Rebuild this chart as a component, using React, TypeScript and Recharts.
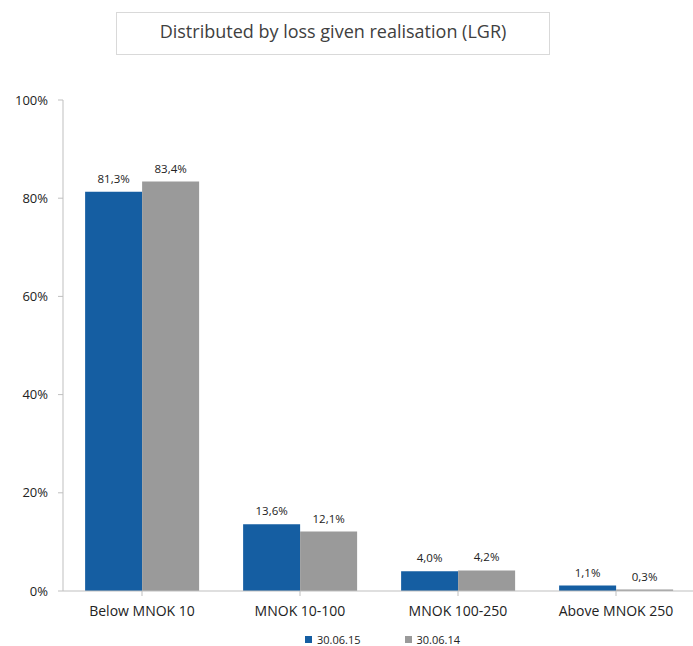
import React from "react";
import { BarChart, Bar, XAxis, YAxis, LabelList, Legend } from "recharts";

// Loss given realisation buckets
const categories = ["Below MNOK 10", "MNOK 10-100", "MNOK 100-250", "Above MNOK 250"];
const series2015 = [81.3, 13.6, 4.0, 1.1];
const series2014 = [83.4, 12.1, 4.2, 0.3];
const seriesNames = ["30.06.15", "30.06.14"];
const yTicks = [0, 20, 40, 60, 80, 100];

const BLUE = "#155ea2";
const GREY = "#9a9a9a";
const AXIS = "#bfbfbf";
const FONT = "'Open Sans', 'Liberation Sans', sans-serif";

const data = categories.map((name, i) => ({
  name,
  a: series2015[i],
  b: series2014[i],
}));

const fmt = (v: number) => v.toFixed(1).replace(".", ",") + "%";

const LegendContent = () => (
  <div
    style={{
      display: "flex",
      justifyContent: "center",
      fontFamily: FONT,
      fontSize: 11,
      color: "#222",
      gap: 44,
      paddingLeft: 70,
      paddingTop: 6,
    }}
  >
    {[BLUE, GREY].map((c, i) => (
      <div key={i} style={{ display: "flex", alignItems: "center" }}>
        <span style={{ width: 7, height: 7, background: c, display: "inline-block", marginRight: 5 }} />
        <span>{seriesNames[i]}</span>
      </div>
    ))}
  </div>
);

export default function App() {
  return (
    <div style={{ position: "absolute", left: 0, top: 0, width: 693, height: 646, background: "#fff" }}>
      <div
        style={{
          position: "absolute",
          left: 116,
          top: 12,
          width: 434,
          height: 43,
          border: "1px solid #d9d9d9",
          display: "flex",
          alignItems: "center",
          justifyContent: "center",
          fontFamily: FONT,
          fontSize: 18,
          color: "#404040",
          paddingBottom: 5,
          boxSizing: "border-box",
        }}
      >
        Distributed by loss given realisation (LGR)
      </div>
      <BarChart
        width={693}
        height={646}
        data={data}
        margin={{ top: 100, right: -2, left: 0, bottom: 0 }}
        barCategoryGap="14%"
        barGap={0}
      >
        <XAxis
          dataKey="name"
          height={35}
          axisLine={{ stroke: AXIS }}
          tickLine={{ stroke: AXIS }}
          tickSize={5}
          tickMargin={10}
          tick={{ fontFamily: FONT, fontSize: 14, fill: "#222" }}
          interval={0}
        />
        <YAxis
          width={63}
          domain={[0, 100]}
          ticks={yTicks}
          tickFormatter={(v: number) => v + "%"}
          axisLine={{ stroke: AXIS }}
          tickLine={{ stroke: AXIS }}
          tickSize={5}
          tickMargin={10}
          tick={{ fontFamily: FONT, fontSize: 13, fill: "#222" }}
        />
        <Legend verticalAlign="bottom" height={20} content={<LegendContent />} />
        <Bar dataKey="a" name={seriesNames[0]} fill={BLUE} isAnimationActive={false}>
          <LabelList dataKey="a" position="top" offset={9} formatter={fmt} style={{ fontFamily: FONT, fontSize: 11.5, fill: "#222" }} />
        </Bar>
        <Bar dataKey="b" name={seriesNames[1]} fill={GREY} isAnimationActive={false}>
          <LabelList dataKey="b" position="top" offset={9} formatter={fmt} style={{ fontFamily: FONT, fontSize: 11.5, fill: "#222" }} />
        </Bar>
      </BarChart>
    </div>
  );
}
